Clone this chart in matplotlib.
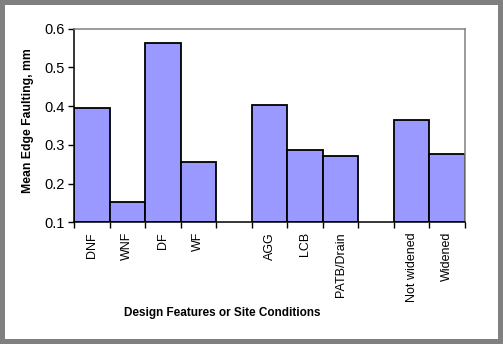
import matplotlib.pyplot as plt
from matplotlib.patches import Rectangle
import numpy as np

plt.rcParams['font.family'] = ['Liberation Sans', 'DejaVu Sans']

# categories in plot order; '' marks the empty gap slots
categories = ["DNF", "WNF", "DF", "WF", "", "AGG", "LCB", "PATB/Drain", "",
              "Not widened", "Widened"]
values = [0.395, 0.152, 0.562, 0.257, None, 0.402, 0.286, 0.270, None,
          0.363, 0.276]

fig = plt.figure(figsize=(5.03, 3.44), dpi=100)
ax = fig.add_axes([74 / 503, (344 - 222.3) / 344, (465 - 74) / 503,
                   (222.3 - 28.7) / 344])

pos = [i for i, v in enumerate(values) if v is not None]
vals = [v for v in values if v is not None]
ax.bar(pos, [v - 0.1 for v in vals], bottom=0.1, width=1.0,
       color="#9999FF", edgecolor="black", linewidth=1.3)

ax.set_xlim(-0.5, len(categories) - 0.5)
ax.set_ylim(0.1, 0.6)
ax.set_yticks(np.arange(0.1, 0.61, 0.1))
ax.set_yticklabels(["0.1", "0.2", "0.3", "0.4", "0.5", "0.6"], fontsize=10.5)

# ticks at category boundaries, labels at centres
ax.set_xticks(np.arange(-0.5, len(categories), 1.0))
ax.set_xticklabels([])
ax.set_xticks(np.arange(len(categories)), minor=True)
ax.set_xticklabels(categories, minor=True, rotation=90, fontsize=9,
                   va="top")
ax.tick_params(axis="x", which="minor", length=0, pad=7)
ax.tick_params(axis="x", which="major", length=4, width=1, direction="out")
ax.tick_params(axis="y", length=4, width=1, direction="out", pad=3)

for s in ["left", "bottom"]:
    ax.spines[s].set_color("black")
    ax.spines[s].set_linewidth(1.1)
for s in ["top", "right"]:
    ax.spines[s].set_color("#808080")
    ax.spines[s].set_linewidth(1.1)

fig.text(222 / 503, 1 - 312.7 / 344, "Design Features or Site Conditions",
         ha="center", va="center", fontsize=8.5, fontweight="bold")
fig.text(27.5 / 503, 1 - 120.5 / 344, "Mean Edge Faulting, mm", ha="center",
         va="center", rotation=90, fontsize=8.8, fontweight="bold")

fig.patches.append(Rectangle((0, 0), 1, 1, transform=fig.transFigure,
                             fill=False, edgecolor="#808080", linewidth=7.2))

fig.savefig("out.png", dpi=100)
